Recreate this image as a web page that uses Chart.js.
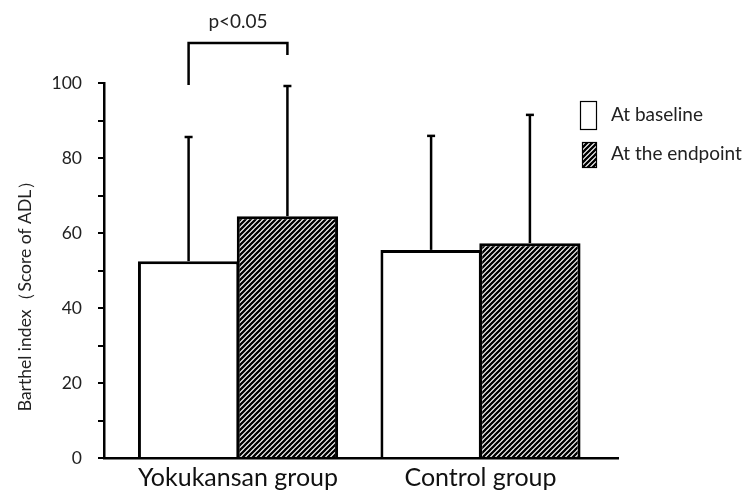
<!DOCTYPE html>
<html>
<head>
<meta charset="utf-8">
<script src="https://cdn.jsdelivr.net/npm/chart.js@4.4.1/dist/chart.umd.min.js"></script>
<style>
html,body{margin:0;padding:0;background:#fff;}
#wrap{width:750px;height:497px;position:relative;}
</style>
</head>
<body>
<div id="wrap"><canvas id="c" width="750" height="497"></canvas></div>
<script>
// ---- data ----
const categories = ["Yokukansan group", "Control group"];
const seriesNames = ["At baseline", "At the endpoint"];
const baseline = [52.5, 55.5];
const endpoint = [64.5, 57.3];
const baselineUpper = [85.6, 85.9];
const endpointUpper = [99.2, 91.5];
const yTickLabels = [0, 20, 40, 60, 80, 100];
const yAxisTitle = "Barthel index（Score of ADL）";
const sigLabel = "p<0.05";
const sigBracketTop = 110.7;
const sigLeftBottom = 99.5;
const sigRightBottom = 107.5;

const FONT = "Lato, 'Open Sans', sans-serif";

function hatch() {
  const s = 5;
  const c = document.createElement('canvas');
  c.width = s; c.height = s;
  const g = c.getContext('2d');
  g.fillStyle = '#fff'; g.fillRect(0, 0, s, s);
  g.strokeStyle = '#000'; g.lineWidth = 2.3;
  g.beginPath();
  g.moveTo(-1, s + 1); g.lineTo(s + 1, -1);
  g.moveTo(-1, 1); g.lineTo(1, -1);
  g.moveTo(s - 1, s + 1); g.lineTo(s + 1, s - 1);
  g.stroke();
  return g.createPattern(c, 'repeat');
}
const hatchPattern = hatch();

const uppers = [baselineUpper, endpointUpper];

const whiskers = {
  id: 'whiskers',
  afterDatasetsDraw(chart) {
    const ctx = chart.ctx, y = chart.scales.y;
    ctx.save();
    ctx.strokeStyle = '#000';
    chart.data.datasets.forEach((ds, di) => {
      chart.getDatasetMeta(di).data.forEach((el, i) => {
        const top = y.getPixelForValue(uppers[di][i]);
        ctx.lineWidth = 2.5;
        ctx.beginPath(); ctx.moveTo(el.x, el.y); ctx.lineTo(el.x, top); ctx.stroke();
        ctx.beginPath(); ctx.moveTo(el.x - 4, top); ctx.lineTo(el.x + 4, top); ctx.stroke();
      });
    });
    // significance bracket over first group
    const b0 = chart.getDatasetMeta(0).data[0], b1 = chart.getDatasetMeta(1).data[0];
    const yt = y.getPixelForValue(sigBracketTop);
    ctx.lineWidth = 2.5;
    ctx.beginPath();
    ctx.moveTo(b0.x, y.getPixelForValue(sigLeftBottom));
    ctx.lineTo(b0.x, yt);
    ctx.lineTo(b1.x, yt);
    ctx.lineTo(b1.x, y.getPixelForValue(sigRightBottom));
    ctx.stroke();
    ctx.fillStyle = '#222';
    ctx.font = "19px " + FONT;
    ctx.textAlign = 'center'; ctx.textBaseline = 'middle';
    ctx.fillText(sigLabel, (b0.x + b1.x) / 2, yt - 21);
    ctx.restore();
  }
};

const legendAndTitle = {
  id: 'legendAndTitle',
  afterDraw(chart) {
    const ctx = chart.ctx, a = chart.chartArea;
    ctx.save();
    // y-axis title
    ctx.translate(25, a.top + (a.bottom - a.top) / 2 + 21);
    ctx.rotate(-Math.PI / 2);
    ctx.fillStyle = '#222';
    ctx.font = "17.5px " + FONT;
    ctx.textAlign = 'center'; ctx.textBaseline = 'middle';
    ctx.fillText(yAxisTitle, 0, 0);
    ctx.restore();
    // legend
    ctx.save();
    const ds = chart.data.datasets;
    const boxes = [[580, 101, 17, 29], [582, 142, 15, 26]];
    ds.forEach((d, i) => {
      const [bx, by, bw, bh] = boxes[i];
      ctx.fillStyle = d.backgroundColor;
      ctx.fillRect(bx, by, bw, bh);
      ctx.strokeStyle = '#000'; ctx.lineWidth = 1.2;
      ctx.strokeRect(bx + 0.5, by + 0.5, bw - 1, bh - 1);
      ctx.fillStyle = '#222';
      ctx.font = "19px " + FONT;
      ctx.textAlign = 'left'; ctx.textBaseline = 'middle';
      ctx.fillText(d.label, 611, by + bh / 2 - 1);
    });
    ctx.restore();
  }
};

new Chart(document.getElementById('c'), {
  type: 'bar',
  data: {
    datasets: [
      {
        label: seriesNames[0],
        data: baseline.map((v, i) => ({ x: i, y: v })),
        backgroundColor: '#ffffff',
        borderColor: '#000', borderWidth: 3,
        categoryPercentage: 0.815, barPercentage: 1.025
      },
      {
        label: seriesNames[1],
        data: endpoint.map((v, i) => ({ x: i, y: v })),
        backgroundColor: hatchPattern,
        borderColor: '#000', borderWidth: 3,
        categoryPercentage: 0.815, barPercentage: 1.025
      }
    ]
  },
  options: {
    responsive: false,
    animation: false,
    layout: { padding: { left: 0, right: 132, top: 83, bottom: 0 } },
    plugins: { legend: { display: false }, tooltip: { enabled: false } },
    scales: {
      x: {
        type: 'linear',
        offset: false,
        min: -0.5526, max: 1.567,
        afterBuildTicks(s) { s.ticks = categories.map((c, i) => ({ value: i })); },
        afterFit(s) { s.height = 39; },
        grid: { display: false, offset: false },
        border: { color: '#000', width: 2.5 },
        ticks: {
          callback: v => categories[v],
          color: '#111', font: { family: FONT, size: 25 }, padding: -3,
          maxRotation: 0, autoSkip: false
        }
      },
      y: {
        min: 0, max: 100,
        afterFit(s) { s.width = 104; },
        grid: { drawOnChartArea: false, tickLength: 6, color: '#000', lineWidth: 2 },
        border: { color: '#000', width: 2.5 },
        ticks: {
          stepSize: 10,
          callback: v => (yTickLabels.includes(v) ? String(v) : ''),
          color: '#222', font: { family: FONT, size: 17.5 }, padding: 16
        }
      }
    }
  },
  plugins: [whiskers, legendAndTitle]
});
</script>
</body>
</html>
